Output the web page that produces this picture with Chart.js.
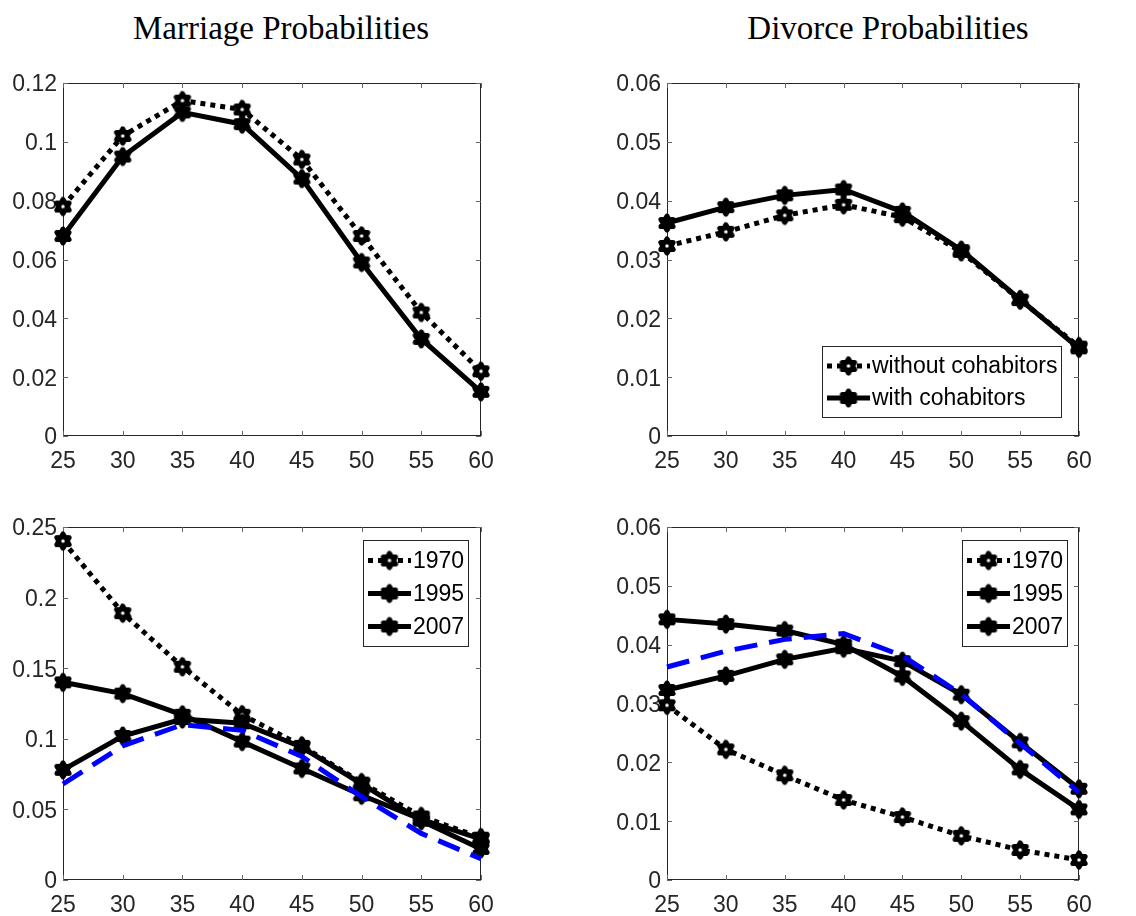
<!DOCTYPE html>
<html>
<head>
<meta charset="utf-8">
<script src="https://cdn.jsdelivr.net/npm/chart.js@4.4.1/dist/chart.umd.min.js"></script>
<style>
  html, body { margin: 0; padding: 0; background: #fff; }
  #wrap { position: relative; width: 1136px; height: 916px; overflow: hidden; }
  canvas { position: absolute; }
  .title {
    position: absolute; font-family: "Liberation Serif", "Times New Roman", serif;
    font-size: 33px; line-height: 33px; color: #000; white-space: nowrap;
    transform: translateX(-50%);
  }
</style>
</head>
<body>
<div id="wrap">
  <div class="title" style="left:281px; top:12px;">Marriage Probabilities</div>
  <div class="title" style="left:888px; top:12px;">Divorce Probabilities</div>
  <canvas id="cTL" width="568" height="480" style="left:0; top:0;"></canvas>
  <canvas id="cTR" width="568" height="480" style="left:568px; top:0;"></canvas>
  <canvas id="cBL" width="568" height="436" style="left:0; top:480px;"></canvas>
  <canvas id="cBR" width="568" height="436" style="left:568px; top:480px;"></canvas>
</div>
<script>
// ---- data ----
const ages = [25, 30, 35, 40, 45, 50, 55, 60];
const ageLabels = ['25', '30', '35', '40', '45', '50', '55', '60'];

const marriageWithout = [0.078, 0.102, 0.114, 0.111, 0.094, 0.068, 0.042, 0.022];
const marriageWith    = [0.068, 0.095, 0.110, 0.106, 0.0875, 0.059, 0.033, 0.015];
const divorceWithout  = [0.0323, 0.0347, 0.0375, 0.0393, 0.0372, 0.0313, 0.0231, 0.0152];
const divorceWith     = [0.0362, 0.0389, 0.0409, 0.0419, 0.0381, 0.0316, 0.0232, 0.0149];

const marriage1970 = [0.240, 0.189, 0.151, 0.117, 0.095, 0.069, 0.045, 0.030];
const marriage1995 = [0.140, 0.132, 0.117, 0.098, 0.079, 0.060, 0.043, 0.029];
const marriage2007 = [0.078, 0.102, 0.114, 0.111, 0.094, 0.068, 0.042, 0.022];

const divorce1970 = [0.0297, 0.0222, 0.0178, 0.0136, 0.0107, 0.0075, 0.0051, 0.0034];
const divorce1995 = [0.0443, 0.0435, 0.0424, 0.0400, 0.0346, 0.0270, 0.0188, 0.0120];
const divorce2007 = [0.0323, 0.0347, 0.0375, 0.0394, 0.0372, 0.0315, 0.0234, 0.0155];

const yTicksSmall = [0, 0.02, 0.04, 0.06, 0.08, 0.10, 0.12];
const yLabelsSmall = ['0', '0.02', '0.04', '0.06', '0.08', '0.1', '0.12'];
const yTicksDiv = [0, 0.01, 0.02, 0.03, 0.04, 0.05, 0.06];
const yLabelsDiv = ['0', '0.01', '0.02', '0.03', '0.04', '0.05', '0.06'];
const yTicksLarge = [0, 0.05, 0.10, 0.15, 0.20, 0.25];
const yLabelsLarge = ['0', '0.05', '0.1', '0.15', '0.2', '0.25'];

// ---- styling ----
Chart.defaults.font.family = '"Liberation Sans", Arial, sans-serif';
Chart.defaults.font.size = 23;
Chart.defaults.color = '#262626';

// hexagram marker with a heavy black edge
function hexagram(edge, fill) {
  const s = 26, c = document.createElement('canvas');
  c.width = c.height = s;
  const g = c.getContext('2d');
  const R = 7, r = R / Math.sqrt(3);
  g.beginPath();
  for (let k = 0; k < 12; k++) {
    const a = -Math.PI / 2 + k * Math.PI / 6;
    const rad = (k % 2) ? r : R;
    g.lineTo(s / 2 + rad * Math.cos(a), s / 2 + rad * Math.sin(a));
  }
  g.closePath();
  g.fillStyle = fill;
  g.fill();
  g.lineWidth = edge;
  g.lineJoin = 'round';
  g.strokeStyle = '#000';
  g.stroke();
  return c;
}
const markerOpen = hexagram(5.2, '#fff');
const markerFull = hexagram(5, '#000');

const pts = vals => vals.map((v, i) => ({ x: ages[i], y: v }));

function dottedSeries(label, vals, order) {
  return { label, data: pts(vals), borderColor: '#000', borderWidth: 5, borderDash: [5, 5],
           borderCapStyle: 'butt', pointStyle: markerOpen, pointRadius: 8, pointHoverRadius: 8,
           tension: 0, clip: false, inLegend: true, order };
}
function solidSeries(label, vals, order) {
  return { label, data: pts(vals), borderColor: '#000', borderWidth: 5, borderDash: [],
           pointStyle: markerFull, pointRadius: 8, pointHoverRadius: 8,
           tension: 0, clip: false, inLegend: true, order };
}
function blueSeries(label, vals) {
  return { label, data: pts(vals), borderColor: '#0000ff', borderWidth: 5, borderDash: [23, 12],
           borderCapStyle: 'butt', pointRadius: 0, tension: 0, clip: false, inLegend: false, order: 0 };
}

// axes box with inward tick marks
const framePlugin = {
  id: 'frame',
  beforeDatasetsDraw(chart) {
    const { ctx, chartArea: a, scales } = chart;
    ctx.save();
    ctx.strokeStyle = '#262626';
    ctx.lineWidth = 1;
    ctx.strokeRect(Math.round(a.left) + 0.5, Math.round(a.top) + 0.5,
                   Math.round(a.right - a.left) - 1, Math.round(a.bottom - a.top) - 1);
    ctx.strokeStyle = '#666';
    const L = 5;
    ctx.beginPath();
    scales.x.ticks.forEach(t => {
      const px = Math.round(scales.x.getPixelForValue(t.value)) + 0.5;
      ctx.moveTo(px, a.bottom); ctx.lineTo(px, a.bottom - L);
      ctx.moveTo(px, a.top); ctx.lineTo(px, a.top + L);
    });
    scales.y.ticks.forEach(t => {
      const py = Math.round(scales.y.getPixelForValue(t.value)) + 0.5;
      ctx.moveTo(a.left, py); ctx.lineTo(a.left + L, py);
      ctx.moveTo(a.right, py); ctx.lineTo(a.right - L, py);
    });
    ctx.stroke();
    ctx.restore();
  }
};

// boxed legend inside the plot area
const boxLegend = {
  id: 'boxLegend',
  afterDatasetsDraw(chart, args, opts) {
    if (!opts || opts.display === false) return;
    const { ctx, chartArea: a } = chart;
    const items = chart.data.datasets.filter(d => d.inLegend);
    ctx.save();
    ctx.font = '23px "Liberation Sans", Arial, sans-serif';
    const padL = 5, sampleW = 43, gap = 2, padR = 4, padT = 4, rowH = opts.rowH;
    const textW = Math.max(...items.map(d => ctx.measureText(d.label).width));
    const w = padL + sampleW + gap + textW + padR;
    const h = padT * 2 + rowH * items.length - 1;
    const x0 = Math.round(a.right - opts.right - w);
    const y0 = opts.top !== undefined ? Math.round(a.top + opts.top) : Math.round(a.bottom - opts.bottom - h);
    ctx.fillStyle = '#fff';
    ctx.fillRect(x0, y0, w, h);
    ctx.strokeStyle = '#262626';
    ctx.lineWidth = 1;
    ctx.strokeRect(x0 + 0.5, y0 + 0.5, Math.round(w), Math.round(h));
    items.forEach((d, i) => {
      const cy = y0 + padT + rowH * (i + 0.5);
      const sx = x0 + padL;
      ctx.save();
      ctx.strokeStyle = d.borderColor;
      ctx.lineWidth = d.borderWidth;
      ctx.setLineDash(d.borderDash || []);
      ctx.beginPath();
      ctx.moveTo(sx, cy); ctx.lineTo(sx + sampleW, cy);
      ctx.stroke();
      ctx.restore();
      const m = d.pointStyle;
      ctx.drawImage(m, sx + sampleW / 2 - m.width / 2, cy - m.height / 2);
      ctx.fillStyle = '#000';
      ctx.textBaseline = 'middle';
      ctx.textAlign = 'left';
      ctx.fillText(d.label, sx + sampleW + gap, cy + 1);
    });
    ctx.restore();
  }
};

function makeChart(id, datasets, yTicks, yLabels, yMax, padding, legendOpts) {
  return new Chart(document.getElementById(id), {
    type: 'line',
    data: { datasets },
    plugins: [framePlugin, boxLegend],
    options: {
      responsive: false,
      animation: false,
      devicePixelRatio: 1,
      layout: { padding },
      plugins: {
        legend: { display: false },
        tooltip: { enabled: false },
        boxLegend: legendOpts || { display: false }
      },
      scales: {
        x: {
          type: 'linear', min: 25, max: 60,
          grid: { display: false, drawTicks: false }, border: { display: false },
          afterBuildTicks: s => { s.ticks = ages.map(v => ({ value: v })); },
          afterFit: s => { s.height = 36; },
          ticks: { padding: 15, maxRotation: 0, autoSkip: false,
                   font: { size: 23, lineHeight: 0.9 },
                   callback: (v, i) => ageLabels[i] }
        },
        y: {
          type: 'linear', min: 0, max: yMax,
          grid: { display: false, drawTicks: false }, border: { display: false },
          afterBuildTicks: s => { s.ticks = yTicks.map(v => ({ value: v })); },
          afterFit: s => { s.width = 63; },
          ticks: { padding: 6, autoSkip: false, labelOffset: 2,
                   callback: (v, i) => yLabels[i] }
        }
      }
    }
  });
}

makeChart('cTL',
  [dottedSeries('without cohabitors', marriageWithout, 2), solidSeries('with cohabitors', marriageWith, 1)],
  yTicksSmall, yLabelsSmall, 0.12,
  { left: 0, top: 83, right: 87, bottom: 8 });

makeChart('cTR',
  [dottedSeries('without cohabitors', divorceWithout, 2), solidSeries('with cohabitors', divorceWith, 1)],
  yTicksDiv, yLabelsDiv, 0.06,
  { left: 36, top: 83, right: 57, bottom: 8 },
  { right: 18, bottom: 19, rowH: 32 });

makeChart('cBL',
  [blueSeries('with cohabitors', marriageWith),
   dottedSeries('1970', marriage1970, 3), solidSeries('1995', marriage1995, 2), solidSeries('2007', marriage2007, 1)],
  yTicksLarge, yLabelsLarge, 0.25,
  { left: 0, top: 47, right: 87, bottom: 0 },
  { right: 13, top: 13, rowH: 33 });

makeChart('cBR',
  [blueSeries('with cohabitors', divorceWith),
   dottedSeries('1970', divorce1970, 3), solidSeries('1995', divorce1995, 2), solidSeries('2007', divorce2007, 1)],
  yTicksDiv, yLabelsDiv, 0.06,
  { left: 36, top: 47, right: 57, bottom: 0 },
  { right: 12, top: 13, rowH: 33 });
</script>
</body>
</html>
